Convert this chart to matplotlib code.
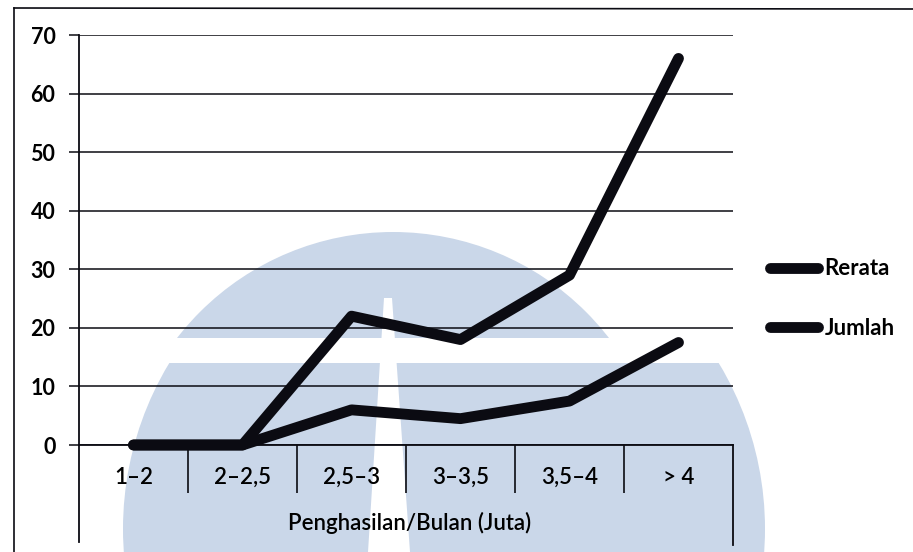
import matplotlib

matplotlib.use("Agg")
import matplotlib.pyplot as plt
import numpy as np
from matplotlib.lines import Line2D
from matplotlib.patches import Circle, Polygon, Rectangle

plt.rcParams["font.family"] = ["Lato", "DejaVu Sans"]

categories = ["1\u20132", "2\u20132,5", "2,5\u20133", "3\u20133,5", "3,5\u20134", "> 4"]
rerata = [0, 0, 6, 4.5, 7.5, 17.5]
jumlah = [0, 0, 22, 18, 29, 66]
y_ticks = [0, 10, 20, 30, 40, 50, 60, 70]

W, H = 913, 552
INK = "#0b0b12"
WASH = "#cad7e9"

fig = plt.figure(figsize=(W / 100, H / 100), dpi=100)

# background layer in pixel coordinates: page frame and faint logo wash
bg = fig.add_axes([0, 0, 1, 1], zorder=0)
bg.set_xlim(0, W)
bg.set_ylim(H, 0)
bg.axis("off")

dome = Circle((393, 505), 273, facecolor=WASH, edgecolor="none")
bg.add_patch(dome)
dome.set_clip_path(Rectangle((0, 0), W, 338, transform=bg.transData))
base = Circle((444, 529), 321, facecolor=WASH, edgecolor="none")
bg.add_patch(base)
base.set_clip_path(Rectangle((0, 363), W, H - 363, transform=bg.transData))
bg.add_patch(Polygon([(384, 298), (392, 298), (410, H), (368, H)],
                     closed=True, facecolor="white", edgecolor="none"))

bg.plot([14, 14], [8, H], color=INK, lw=1.2)
bg.plot([14, W], [8, 9], color=INK, lw=1.2)

ax = fig.add_axes([79 / W, (H - 445) / H, 654 / W, 410 / H], zorder=1)
ax.set_facecolor("none")

x = np.arange(len(categories))
ax.plot(x, rerata, color=INK, lw=7.8, solid_capstyle="round",
        solid_joinstyle="round", clip_on=False, zorder=4, label="Rerata")
ax.plot(x, jumlah, color=INK, lw=7.8, solid_capstyle="round",
        solid_joinstyle="round", clip_on=False, zorder=4, label="Jumlah")

ax.set_xlim(-0.5, len(categories) - 0.5)
ax.set_ylim(0, 70)
ax.set_yticks(y_ticks)
ax.yaxis.grid(True, color=INK, lw=1.1)
ax.set_axisbelow(True)
ax.tick_params(axis="y", length=7, width=1.1, color=INK, pad=10, labelsize=15.5)
for lab in ax.get_yticklabels():
    lab.set_fontweight("bold")

ax.set_xticks(x)
ax.set_xticklabels(categories, fontsize=16, fontweight="semibold")
ax.tick_params(axis="x", which="major", length=0, pad=16)
ax.set_xticks(x[:-1] + 0.5, minor=True)
ax.tick_params(axis="x", which="minor", length=34.5, width=1.2, color=INK, direction="out")

for side in ("top", "right"):
    ax.spines[side].set_visible(False)
for side in ("left", "bottom"):
    ax.spines[side].set_color(INK)
    ax.spines[side].set_linewidth(1.3)

# category table edges below the zero line
xt = ax.get_xaxis_transform()
ax.plot([-0.5, -0.5], [0, -0.237], color=INK, lw=1.3, transform=xt, clip_on=False)
ax.plot([5.5, 5.5], [0, -0.244], color=INK, lw=1.3, transform=xt, clip_on=False)

ax.set_xlabel("Penghasilan/Bulan (Juta)", fontsize=16, fontweight="semibold")
ax.xaxis.set_label_coords(0.506, -0.163)

handles = [Line2D([], [], color=INK, lw=7.8, solid_capstyle="round"),
           Line2D([], [], color=INK, lw=7.8, solid_capstyle="round")]
fig.legend(handles, ["Rerata", "Jumlah"], loc="center left",
           bbox_to_anchor=(770 / W, (H - 298.5) / H), frameon=False,
           borderpad=0, borderaxespad=0, handlelength=2.16,
           handletextpad=0.3, labelspacing=1.72,
           prop={"family": "Lato", "size": 16, "weight": "bold"})

fig.savefig("out.png", dpi=100)
